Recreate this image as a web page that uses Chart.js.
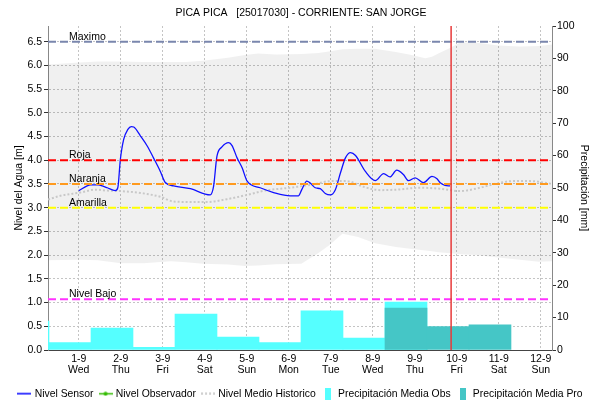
<!DOCTYPE html>
<html lang="es">
<head>
<meta charset="utf-8">
<title>PICA PICA - CORRIENTE: SAN JORGE</title>
<script src="https://cdn.jsdelivr.net/npm/chart.js@4/dist/chart.umd.min.js"></script>
<style>
  html, body { margin: 0; padding: 0; background: #ffffff; }
  canvas { display: block; }
</style>
</head>
<body>
<canvas id="chart" width="602" height="404"></canvas>
<script>
// Station and axis labels
const chartTitle = 'PICA PICA   [25017030] - CORRIENTE: SAN JORGE';
const levelAxisTitle = 'Nivel del Agua [m]';
const rainAxisTitle = 'Precipitación [mm]';

// Time axis in days of September (0 = 31 Aug), ticks at midnight
const dayTicks = [1, 2, 3, 4, 5, 6, 7, 8, 9, 10, 11, 12];
const dateLabels = ['1-9', '2-9', '3-9', '4-9', '5-9', '6-9', '7-9', '8-9', '9-9', '10-9', '11-9', '12-9'];
const weekdayLabels = ['Wed', 'Thu', 'Fri', 'Sat', 'Sun', 'Mon', 'Tue', 'Wed', 'Thu', 'Fri', 'Sat', 'Sun'];
const rangeStart = 0.268;
const rangeEnd = 12.268;
const nowDay = 9.866;

// Alert levels [m]
const alertNames = ['Maximo', 'Roja', 'Naranja', 'Amarilla', 'Nivel Bajo'];
const alertLevels = [6.5, 4.0, 3.5, 3.0, 1.07];
const alertColors = ['#7a86ad', '#ff0000', '#ff9a1e', '#ffff00', '#ff33ff'];

// Sensor readings [m]
const sensorDays = [1.00, 1.20, 1.28, 1.47, 1.56, 1.68, 1.87, 1.93, 1.99, 2.07, 2.17, 2.25, 2.31, 2.47, 2.63, 2.78, 2.94, 3.06, 3.26, 3.66, 4.13, 4.21, 4.29, 4.41, 4.57, 4.65, 4.77, 4.89, 5.01, 5.32, 5.64, 6.04, 6.23, 6.31, 6.43, 6.51, 6.63, 6.75, 6.87, 6.99, 7.11, 7.23, 7.35, 7.47, 7.59, 7.82, 8.06, 8.26, 8.41, 8.57, 8.73, 8.85, 9.01, 9.21, 9.41, 9.53, 9.60, 9.72, 9.84];
const sensorLevels = [3.36, 3.46, 3.48, 3.48, 3.46, 3.42, 3.36, 3.42, 4.01, 4.44, 4.65, 4.71, 4.70, 4.51, 4.30, 4.05, 3.77, 3.53, 3.46, 3.40, 3.27, 3.45, 4.08, 4.28, 4.37, 4.31, 4.05, 3.84, 3.56, 3.42, 3.32, 3.25, 3.25, 3.38, 3.56, 3.52, 3.42, 3.40, 3.30, 3.27, 3.38, 3.73, 4.05, 4.16, 4.10, 3.77, 3.57, 3.72, 3.65, 3.79, 3.70, 3.57, 3.63, 3.53, 3.66, 3.61, 3.53, 3.47, 3.46];

// Observer readings [m] (none reported in this period)
const observerDays = [];
const observerLevels = [];

// Historical mean level [m]
const histDays = [0.27, 0.56, 1.04, 1.40, 1.68, 1.99, 2.47, 2.94, 3.26, 3.66, 4.05, 4.53, 5.01, 5.48, 5.80, 6.04, 6.20, 6.59, 6.99, 7.38, 7.78, 8.18, 8.57, 9.13, 9.60, 10.08, 10.55, 10.95, 11.35, 11.75, 12.14, 12.27];
const histMean = [3.17, 3.25, 3.32, 3.38, 3.36, 3.35, 3.31, 3.23, 3.13, 3.12, 3.12, 3.18, 3.27, 3.37, 3.40, 3.42, 3.44, 3.49, 3.56, 3.56, 3.44, 3.37, 3.38, 3.42, 3.40, 3.35, 3.42, 3.51, 3.56, 3.56, 3.52, 3.50];

// Historical envelope [m]
const envelopeDays = [0.27, 1.00, 1.45, 2.00, 2.55, 3.20, 3.55, 3.95, 4.55, 4.95, 5.27, 5.70, 6.30, 6.70, 6.95, 7.28, 7.65, 8.05, 8.55, 8.93, 9.25, 9.41, 9.56, 9.85, 10.08, 10.45, 10.98, 11.50, 11.95, 12.27];
const envelopeMax = [6.02, 6.06, 6.08, 6.08, 6.07, 6.07, 6.07, 6.10, 6.16, 6.22, 6.25, 6.23, 6.24, 6.26, 6.29, 6.34, 6.35, 6.35, 6.28, 6.22, 6.15, 6.18, 6.25, 6.37, 6.48, 6.48, 6.42, 6.40, 6.41, 6.44];
const envelopeMin = [1.89, 1.90, 1.89, 1.83, 1.83, 1.87, 1.85, 1.82, 1.80, 1.77, 1.78, 1.81, 1.82, 2.04, 2.20, 2.45, 2.38, 2.25, 2.17, 2.13, 2.10, 2.08, 2.06, 2.04, 2.02, 2.00, 1.95, 1.90, 1.86, 1.87];

// Daily rainfall [mm], 07:00 to 07:00 windows, keyed by the day the window opens
const rainWindowOffset = 7 / 24;
const rainObsStart = [-1, 0, 1, 2, 3, 4, 5, 6, 7, 8];
const rainObsMm = [8.9, 2.3, 6.8, 0.8, 11.1, 4.0, 2.3, 12.1, 3.7, 14.8];
const rainForecastStart = [8, 9, 10];
const rainForecastMm = [12.9, 7.2, 7.8];

const FONT = "'Liberation Sans', Arial, Helvetica, sans-serif";
Chart.defaults.font.family = FONT;
Chart.defaults.font.size = 10.5;
Chart.defaults.color = '#000';

const LEGEND_FONT = 10.4;
const LEGEND_PAD = 7;

const toPoints = (xs, ys) => xs.map((x, i) => ({ x, y: ys[i] }));
const toRainBars = (starts, mm) => starts.map((s, i) => ({ x: s + rainWindowOffset + 0.5, y: mm[i] }));

// Small legend swatches
function swatch(w, h, paint) {
  const c = document.createElement('canvas');
  c.width = w; c.height = h;
  paint(c.getContext('2d'), w, h);
  return c;
}
const swatchSensor = swatch(14, 3, (g, w) => {
  g.strokeStyle = '#0000ff'; g.lineWidth = 1.5;
  g.beginPath(); g.moveTo(0, 1.5); g.lineTo(w, 1.5); g.stroke();
});
const swatchObserver = swatch(14, 5, (g, w) => {
  g.strokeStyle = '#33bb00'; g.fillStyle = '#33bb00'; g.lineWidth = 1.5;
  g.beginPath(); g.moveTo(0, 2.5); g.lineTo(w, 2.5); g.stroke();
  g.beginPath(); g.arc(w / 2, 2.5, 2, 0, Math.PI * 2); g.fill();
});
const swatchHist = swatch(14, 3, (g, w) => {
  g.strokeStyle = '#c8c8c8'; g.lineWidth = 2; g.setLineDash([2, 2]);
  g.beginPath(); g.moveTo(0, 1.5); g.lineTo(w, 1.5); g.stroke();
});
const swatchRainObs = swatch(6, 12, (g, w, h) => { g.fillStyle = '#55ffff'; g.fillRect(0, 0, w, h); });
const swatchRainPro = swatch(6, 12, (g, w, h) => { g.fillStyle = '#45c6c6'; g.fillRect(0, 0, w, h); });

const legendItems = [
  { text: 'Nivel Sensor', pointStyle: swatchSensor },
  { text: 'Nivel Observador', pointStyle: swatchObserver },
  { text: 'Nivel Medio Historico', pointStyle: swatchHist },
  { text: 'Precipitación Media Obs', pointStyle: swatchRainObs },
  { text: 'Precipitación Media Pro', pointStyle: swatchRainPro }
].map(it => Object.assign(it, {
  fillStyle: 'rgba(0,0,0,0)', strokeStyle: 'rgba(0,0,0,0)', lineWidth: 0, hidden: false, fontColor: '#000'
}));

const datasets = [
  {
    label: 'Ahora', type: 'line', order: 0,
    data: [{ x: nowDay, y: 0 }, { x: nowDay, y: 6.83 }],
    borderColor: '#e83a3a', borderWidth: 1.5, pointRadius: 0, yAxisID: 'y'
  },
  ...alertNames.map((name, i) => ({
    label: name, type: 'line', order: 1,
    data: [{ x: rangeStart, y: alertLevels[i] }, { x: rangeEnd, y: alertLevels[i] }],
    borderColor: alertColors[i], borderWidth: 2, borderDash: [8, 4],
    pointRadius: 0, yAxisID: 'y'
  })),
  {
    label: 'Nivel Sensor', type: 'line', order: 2,
    data: toPoints(sensorDays, sensorLevels),
    borderColor: '#1010ff', borderWidth: 1.3, pointRadius: 0,
    cubicInterpolationMode: 'monotone', yAxisID: 'y'
  },
  {
    label: 'Nivel Observador', type: 'line', order: 3,
    data: toPoints(observerDays, observerLevels),
    borderColor: '#33bb00', borderWidth: 1.5, pointRadius: 2, yAxisID: 'y'
  },
  {
    label: 'Nivel Medio Historico', type: 'line', order: 4,
    data: toPoints(histDays, histMean),
    borderColor: '#c8c8c8', borderWidth: 2, borderDash: [2, 2], pointRadius: 0,
    cubicInterpolationMode: 'monotone', yAxisID: 'y'
  },
  {
    label: 'Precipitación Media Pro', type: 'bar', order: 5,
    data: toRainBars(rainForecastStart, rainForecastMm),
    backgroundColor: '#45c6c6', borderWidth: 0, grouped: false,
    barPercentage: 1, categoryPercentage: 1, yAxisID: 'y1'
  },
  {
    label: 'Precipitación Media Obs', type: 'bar', order: 6,
    data: toRainBars(rainObsStart, rainObsMm),
    backgroundColor: '#55ffff', borderWidth: 0, grouped: false,
    barPercentage: 1, categoryPercentage: 1, yAxisID: 'y1'
  },
  {
    label: 'Máximo histórico', type: 'line', order: 9,
    data: toPoints(envelopeDays, envelopeMax),
    borderColor: 'rgba(0,0,0,0)', borderWidth: 0, pointRadius: 0,
    fill: '+1', backgroundColor: 'rgba(0,0,0,0.058)', yAxisID: 'y'
  },
  {
    label: 'Mínimo histórico', type: 'line', order: 10,
    data: toPoints(envelopeDays, envelopeMin),
    borderColor: 'rgba(0,0,0,0)', borderWidth: 0, pointRadius: 0,
    fill: false, yAxisID: 'y'
  }
];

// Names of the alert levels, written just above each dashed line
const alertLabelPlugin = {
  id: 'alertLabels',
  afterDatasetsDraw(chart) {
    const { ctx, chartArea, scales } = chart;
    ctx.save();
    ctx.font = '10.5px ' + FONT;
    ctx.fillStyle = '#000';
    ctx.textAlign = 'left';
    ctx.textBaseline = 'alphabetic';
    alertNames.forEach((name, i) => {
      ctx.fillText(name, chartArea.left + 21, scales.y.getPixelForValue(alertLevels[i]) - 2);
    });
    ctx.restore();
  }
};

new Chart(document.getElementById('chart'), {
  type: 'line',
  data: { datasets },
  options: {
    responsive: false,
    animation: false,
    devicePixelRatio: 1,
    events: [],
    layout: { padding: { left: 0, right: 0, top: 0, bottom: -5 } },
    plugins: {
      tooltip: { enabled: false },
      title: {
        display: true, text: chartTitle, color: '#000',
        font: { size: 10.5, weight: 'normal' },
        padding: { top: 6.7, bottom: 6.7 }
      },
      legend: {
        position: 'bottom',
        labels: {
          usePointStyle: true, pointStyleWidth: 10, boxHeight: LEGEND_FONT,
          padding: LEGEND_PAD, color: '#000', font: { size: LEGEND_FONT },
          generateLabels: () => legendItems
        }
      }
    },
    scales: {
      x: {
        type: 'linear', position: 'bottom',
        min: rangeStart, max: rangeEnd, offset: false,
        afterBuildTicks: (s) => { s.ticks = dayTicks.map(v => ({ value: v })); },
        afterFit: (s) => {
          const lg = s.chart.legend;
          s.height = lg ? (s.chart.height + 5 - lg.height - 350) : 31.6;
        },
        grid: { color: '#c4c4c4', drawTicks: false, offset: false },
        border: { color: '#444', dash: [2, 2] },
        ticks: {
          autoSkip: false, maxRotation: 0, padding: 4, color: '#000',
          font: { size: 10.5, lineHeight: 1.05 },
          callback: (v) => {
            const i = dayTicks.indexOf(v);
            return i < 0 ? '' : [dateLabels[i], weekdayLabels[i]];
          }
        }
      },
      y: {
        type: 'linear', position: 'left',
        min: 0, max: 6.83,
        afterFit: (s) => { s.width = 48; },
        grid: { color: '#c4c4c4', tickLength: 4, tickColor: '#333', tickBorderDash: [] },
        border: { color: '#888', dash: [2, 2] },
        ticks: {
          stepSize: 0.5, includeBounds: false, padding: 2, color: '#000',
          callback: (v) => v.toFixed(1)
        },
        title: {
          display: true, text: levelAxisTitle, color: '#000',
          font: { size: 10.5 }, padding: { top: 13, bottom: 0 }
        }
      },
      y1: {
        type: 'linear', position: 'right',
        min: 0, max: 100,
        afterFit: (s) => { s.width = 50; },
        grid: { drawOnChartArea: false, tickLength: 4, tickColor: '#333', tickBorderDash: [] },
        border: { color: '#888' },
        ticks: { stepSize: 10, padding: 1, color: '#000' },
        title: {
          display: true, text: rainAxisTitle, color: '#000',
          font: { size: 10.5 }, padding: { top: 11.7, bottom: 0 }
        }
      }
    }
  },
  plugins: [alertLabelPlugin]
});
</script>
</body>
</html>
